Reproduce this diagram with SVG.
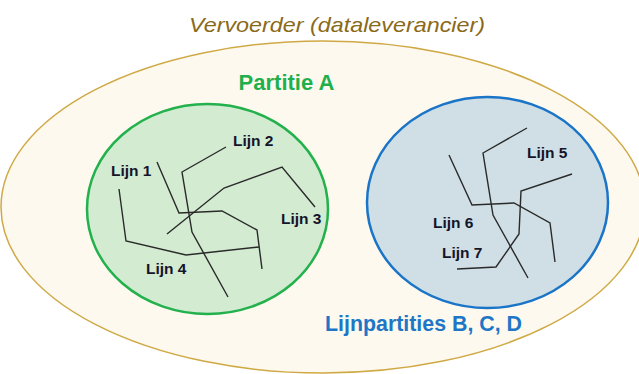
<svg xmlns="http://www.w3.org/2000/svg" width="639" height="374" viewBox="0 0 639 374">
<style>
.lbl{font-family:"Liberation Sans",Arial,sans-serif;font-weight:bold;font-size:15.5px;fill:#14142a}
.line{fill:none;stroke:#2a2a2a;stroke-width:1.4;stroke-linejoin:miter}
.title{font-family:"Liberation Sans",Arial,sans-serif;font-weight:bold;font-size:22px}
</style>
<rect width="639" height="374" fill="#ffffff"/>
<g id="vervoerder">
<ellipse cx="323" cy="207" rx="322" ry="166" fill="#fef9ee" stroke="#cfa945" stroke-width="1.5"/>
<text x="337" y="32" text-anchor="middle" font-family="'Liberation Sans',Arial,sans-serif" font-style="italic" font-size="21" fill="#8a6a18" textLength="296" lengthAdjust="spacingAndGlyphs">Vervoerder (dataleverancier)</text>
</g>
<g id="partitie-a">
<ellipse cx="207.5" cy="209" rx="120.5" ry="105" fill="#d2ebd1" stroke="#22b14c" stroke-width="2.5"/>
<text class="title" x="286.5" y="90" text-anchor="middle" fill="#1fb04d">Partitie A</text>
</g>
<g id="lijnpartities">
<ellipse cx="487.5" cy="202.5" rx="120.5" ry="105.5" fill="#cfdfe5" stroke="#1a74c8" stroke-width="2.5"/>
<text class="title" x="423.5" y="331" text-anchor="middle" fill="#1d76c6" textLength="197" lengthAdjust="spacingAndGlyphs">Lijnpartities B, C, D</text>
</g>
<g id="lijnen">
<polyline class="line" points="157,162 179,213 222,211 257,230 262,269"/>
<polyline class="line" points="226,147 182,172 192,232 228,297"/>
<polyline class="line" points="167,234 224,188 282,167 315,207"/>
<polyline class="line" points="119,189 126,241 186,255 259,247"/>
<polyline class="line" points="527,128 483,153 493,215 528,278"/>
<polyline class="line" points="449,155 472,205 514,203 550,223 555,262"/>
<polyline class="line" points="572,174 521,191 519,234 496,267 457,269"/>
</g>
<g id="labels">
<text class="lbl" x="111" y="176">Lijn 1</text>
<text class="lbl" x="233" y="146">Lijn 2</text>
<text class="lbl" x="281" y="224">Lijn 3</text>
<text class="lbl" x="146" y="274">Lijn 4</text>
<text class="lbl" x="527" y="158">Lijn 5</text>
<text class="lbl" x="433" y="228">Lijn 6</text>
<text class="lbl" x="442" y="258">Lijn 7</text>
</g>
</svg>
